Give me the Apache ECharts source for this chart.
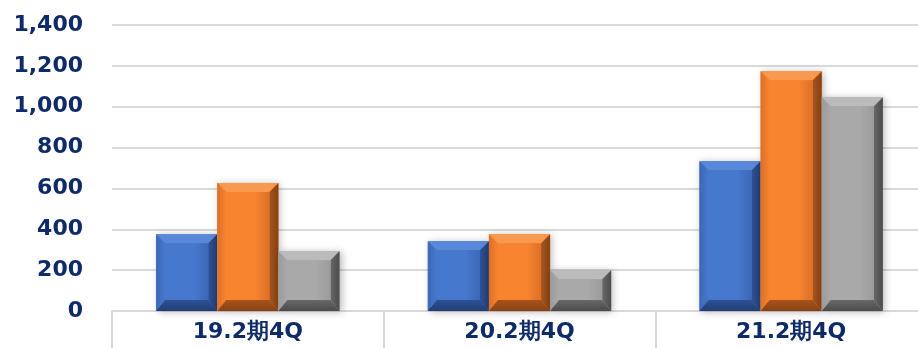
<!DOCTYPE html>
<html>
<head>
<meta charset="utf-8">
<script src="https://cdn.jsdelivr.net/npm/echarts@6/dist/echarts.min.js"></script>
<style>
  html, body { margin: 0; padding: 0; background: #fff; overflow: hidden; width: 918px; height: 348px; }
  #chart { width: 927px; height: 348px; }
</style>
</head>
<body>
<div id="chart"></div>
<script>
// Quarterly figures per fiscal period
const categories = ['19.2期4Q', '20.2期4Q', '21.2期4Q'];
const seriesA = [376, 342, 733];
const seriesB = [626, 376, 1173];
const seriesC = [293, 199, 1046];
const yTicks = [0, 200, 400, 600, 800, 1000, 1200, 1400];

// Bevel palettes: face, top, left, right, bottom
const palettes = [
  { face: '#4678CE', top: '#5A88D8', left: '#3D67B6', right: '#2E5194', bottom: '#223E76' },
  { face: '#F8842F', top: '#F9984F', left: '#DB7029', right: '#A6531C', bottom: '#874213' },
  { face: '#A9A9A9', top: '#BBBBBB', left: '#9B9B9B', right: '#686868', bottom: '#4B4B4B' }
];

const BAR_RATIO = 0.225; // bar width as fraction of category band

function lin(x, y, x2, y2, stops) {
  return { type: 'linear', x: x, y: y, x2: x2, y2: y2,
    colorStops: stops.map((c, i) => ({ offset: i / (stops.length - 1), color: c })) };
}

function makeRender(idx) {
  const pal = palettes[idx];
  return function (params, api) {
    const cat = api.value(0);
    const val = api.value(1);
    const top = api.coord([cat, val]);
    const base = api.coord([cat, 0]);
    const band = api.size([1, 0])[0];
    const w = band * BAR_RATIO;
    const cx = top[0] + (idx - 1) * w;
    const x0 = cx - w / 2, x1 = cx + w / 2;
    const y0 = top[1], y1 = base[1];
    const h = y1 - y0;
    const b = Math.min(9, h / 3);
    const bb = Math.min(11, h / 3);
    const poly = (pts, fill) => ({ type: 'polygon', shape: { points: pts }, style: { fill: fill } });
    return {
      type: 'group',
      children: [
        { type: 'rect', shape: { x: x0, y: y0, width: w, height: h },
          style: { fill: pal.face, shadowBlur: 7, shadowColor: 'rgba(0,0,0,0.28)', shadowOffsetX: 2, shadowOffsetY: 1 } },
        poly([[x0, y0], [x1, y0], [x1 - b, y0 + b], [x0 + b, y0 + b]], pal.top),
        poly([[x0, y0], [x0 + b, y0 + b], [x0 + b, y1 - bb], [x0, y1]], lin(0, 0, 1, 0, [pal.left, pal.face])),
        poly([[x1, y0], [x1, y1], [x1 - b, y1 - bb], [x1 - b, y0 + b]], lin(0, 0, 1, 0, [pal.right, pal.bottom])),
        poly([[x0, y1], [x0 + b, y1 - bb], [x1 - b, y1 - bb], [x1, y1]], lin(0, 0, 0, 1, [pal.right, pal.bottom])),
        { type: 'rect', shape: { x: x0 + b, y: y0 + b, width: w - 2 * b, height: Math.max(0, h - b - bb) },
          style: { fill: lin(0, 0, 1, 0, [pal.face, pal.face, pal.face, pal.left]) } }
      ]
    };
  };
}

const allSeries = [seriesA, seriesB, seriesC].map((vals, i) => ({
  type: 'custom',
  renderItem: makeRender(i),
  data: vals.map((v, j) => [j, v]),
  encode: { x: 0, y: 1 },
  clip: false
}));

const chart = echarts.init(document.getElementById('chart'), null, { renderer: 'canvas' });
chart.setOption({
  animation: false,
  backgroundColor: '#ffffff',
  grid: { left: 112, right: 0, top: 25, bottom: 37, containLabel: false },
  xAxis: {
    type: 'category',
    data: categories,
    boundaryGap: true,
    axisLine: { show: true, lineStyle: { color: '#D9D9D9', width: 2 } },
    axisTick: { show: true, inside: false, length: 40, alignWithLabel: false,
      lineStyle: { color: '#D9D9D9', width: 2 } },
    axisLabel: { color: '#0E2A68', fontFamily: 'DejaVu Sans', fontWeight: 'bold', fontSize: 22, margin: 10 }
  },
  yAxis: {
    type: 'value',
    min: yTicks[0],
    max: yTicks[yTicks.length - 1],
    interval: 200,
    axisLine: { show: false },
    axisTick: { show: false },
    splitLine: { lineStyle: { color: '#D9D9D9', width: 2 } },
    axisLabel: {
      color: '#0E2A68', fontFamily: 'DejaVu Sans', fontWeight: 'bold', fontSize: 22, margin: 29,
      formatter: v => v.toLocaleString('en-US')
    }
  },
  series: allSeries
});
</script>
</body>
</html>
